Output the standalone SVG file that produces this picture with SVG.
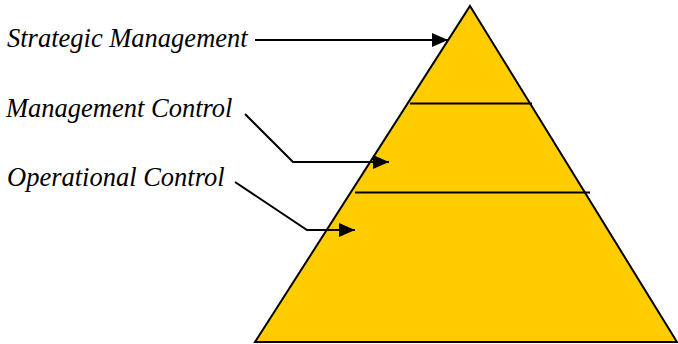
<svg xmlns="http://www.w3.org/2000/svg" width="678" height="344" viewBox="0 0 678 344">
  <style>
    .label { font-family: "Liberation Serif", "Times New Roman", serif; font-style: italic; font-size: 26.5px; fill: #000; }
    .tier { fill: none; stroke: #000; stroke-width: 2; }
    .conn { fill: none; stroke: #000; stroke-width: 2; }
  </style>
  <defs>
    <!-- solid triangular arrowhead shared by all connectors -->
    <marker id="arrowHead" viewBox="0 0 16 14" refX="16" refY="7" markerWidth="16" markerHeight="14" markerUnits="userSpaceOnUse" orient="auto">
      <path d="M0,0 L16,7 L0,14 z" fill="#000"/>
    </marker>
  </defs>

  <!-- three-tier pyramid -->
  <g id="pyramid">
    <polygon points="470,6 677,342 255,342" fill="#FFCC00" stroke="#000" stroke-width="2" stroke-linejoin="miter"/>
    <line class="tier" x1="410" y1="103.5" x2="532" y2="103.5"/>
    <line class="tier" x1="355" y1="192.5" x2="590" y2="192.5"/>
  </g>

  <g id="strategic-management">
    <text class="label" x="7" y="47">Strategic Management</text>
  </g>
  <g id="management-control">
    <text class="label" x="6" y="117">Management Control</text>
  </g>
  <g id="operational-control">
    <text class="label" x="7" y="186">Operational Control</text>
  </g>

  <g id="connectors">
    <polyline class="conn" points="255,40 448,40" marker-end="url(#arrowHead)"/>
    <polyline class="conn" points="245,114 293,162 389,162" marker-end="url(#arrowHead)"/>
    <polyline class="conn" points="235,182 307,230 355,230" marker-end="url(#arrowHead)"/>
  </g>
</svg>
